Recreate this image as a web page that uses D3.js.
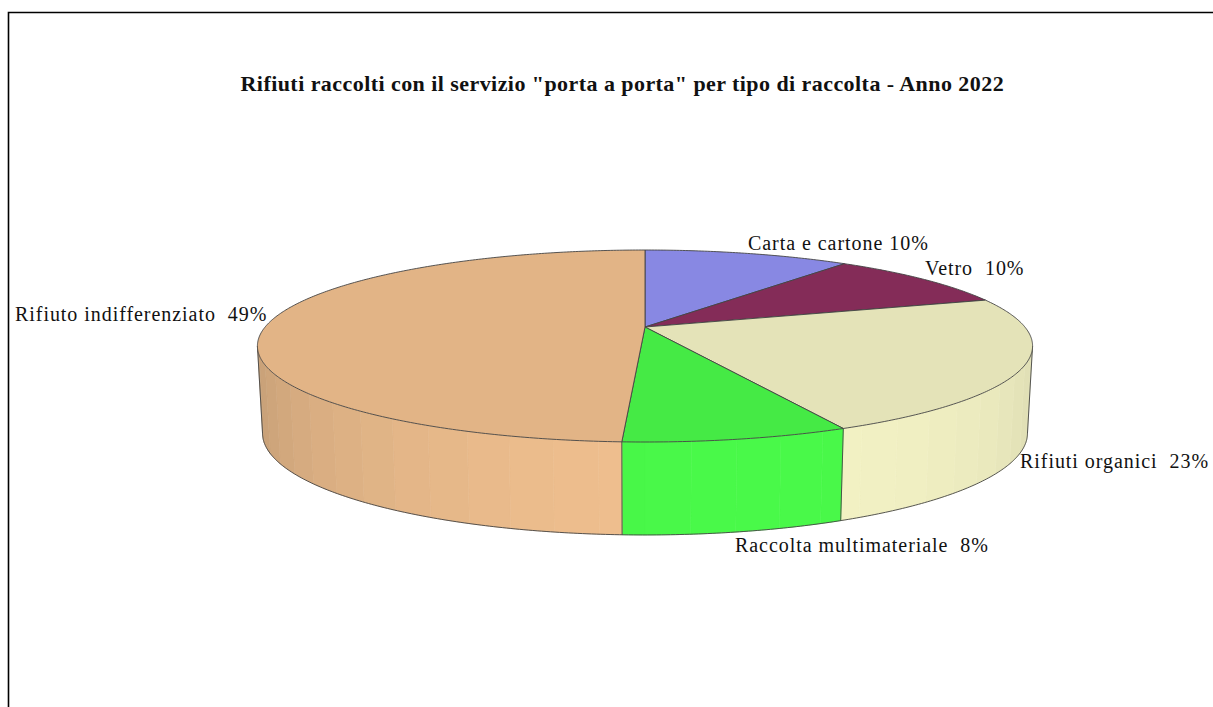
<!DOCTYPE html>
<html>
<head>
<meta charset="utf-8">
<script src="https://cdnjs.cloudflare.com/ajax/libs/d3/7.8.5/d3.min.js"></script>
<style>
  html, body { margin: 0; padding: 0; background: #fff; overflow: hidden; }
  text { font-family: "Liberation Serif", serif; fill: #111; white-space: pre; }
</style>
</head>
<body>
<div id="chart"></div>
<script>
const titleText = 'Rifiuti raccolti con il servizio "porta a porta" per tipo di raccolta - Anno 2022';
const categories = ['Carta e cartone', 'Vetro', 'Rifiuti organici', 'Raccolta multimateriale', 'Rifiuto indifferenziato'];
const values = [10.4, 9.6, 22.95, 7.83, 49.22];
const valueLabels = ['10%', ' 10%', ' 23%', ' 8%', ' 49%'];
const sliceColors = ['#9191f2', '#8c2f5e', '#f3f2c4', '#49f949', '#f0c08f'];

const width = 1213;
const height = 707;

// x, y of the left end of each label's baseline
const labelAt = [[748, 250], [925, 275], [1020, 468], [735, 552], [15, 321]];

// tilted disc: k is the foreshortening from far edge to near edge
const k = 0.198;
const topDisc = { x: 645, y: 327, a: 379.9, b: 92.24 };
const bottomDisc = { x: 645, y: 413, a: 374.9, b: 97.8 };

function project(disc, angle) {
  const w = 1 + k * Math.cos(angle);
  return [disc.x + disc.a * Math.sin(angle) / w, disc.y - disc.b * Math.cos(angle) / w];
}

// the side walls show only between these two angles
const wallStart = Math.acos(-k);
const wallEnd = 2 * Math.PI - wallStart;
const facet = Math.PI / 32;
const lightAngle = 165 * Math.PI / 180;

const pie = d3.pie().sort(null).value(d => d);
const arcs = pie(values);
const line = d3.line();

function rimPoints(disc, from, to) {
  const n = Math.max(1, Math.ceil((to - from) / 0.01));
  return d3.range(n + 1).map(i => project(disc, from + (to - from) * i / n));
}

const svg = d3.select('#chart')
  .append('svg')
  .attr('width', width)
  .attr('height', height)
  .style('display', 'block');

// frame, open at the right and at the bottom
svg.append('path')
  .attr('d', line([[8.5, height], [8.5, 12.5], [width, 12.5]]))
  .attr('fill', 'none')
  .attr('stroke', '#000')
  .attr('stroke-width', 1.6);

svg.append('text')
  .attr('x', 240.5)
  .attr('y', 91)
  .attr('font-size', 22)
  .attr('font-weight', 'bold')
  .attr('letter-spacing', 0.44)
  .text(titleText);

// side walls, one flat facet at a time
arcs.forEach((d, i) => {
  const from = Math.max(d.startAngle, wallStart);
  const to = Math.min(d.endAngle, wallEnd);
  if (from >= to) return;
  const first = Math.floor(from / facet);
  const last = Math.ceil(to / facet);
  d3.range(first, last).forEach(j => {
    const a0 = Math.max(j * facet, from);
    const a1 = Math.min((j + 1) * facet, to);
    const shade = 0.829 + 0.171 * Math.cos((j + 0.5) * facet - lightAngle);
    const c = d3.rgb(sliceColors[i]);
    const fill = d3.rgb(c.r * shade, c.g * shade, c.b * shade);
    svg.append('path')
      .attr('d', line(rimPoints(topDisc, a0, a1).concat(rimPoints(bottomDisc, a0, a1).reverse())) + 'Z')
      .attr('fill', fill)
      .attr('stroke', fill)
      .attr('stroke-width', 0.6);
  });
  // edge between two neighbouring walls
  if (d.startAngle > wallStart && d.startAngle < wallEnd) {
    svg.append('path')
      .attr('d', line([project(topDisc, d.startAngle), project(bottomDisc, d.startAngle)]))
      .attr('stroke', '#444')
      .attr('stroke-width', 0.9);
  }
});

// outline of the walls
svg.append('path')
  .attr('d', line([project(topDisc, wallStart)].concat(rimPoints(bottomDisc, wallStart, wallEnd), [project(topDisc, wallEnd)])))
  .attr('fill', 'none')
  .attr('stroke', '#444')
  .attr('stroke-width', 0.9);

// top face of each slice
arcs.forEach((d, i) => {
  const c = d3.rgb(sliceColors[i]);
  const topFill = d3.rgb(c.r * 0.94, c.g * 0.94, c.b * 0.94);
  svg.append('path')
    .attr('d', line([[topDisc.x, topDisc.y]].concat(rimPoints(topDisc, d.startAngle, d.endAngle))) + 'Z')
    .attr('fill', topFill)
    .attr('stroke', '#444')
    .attr('stroke-width', 0.9)
    .attr('stroke-linejoin', 'round');
});

svg.selectAll('.slice-label')
  .data(categories)
  .enter()
  .append('text')
  .attr('class', 'slice-label')
  .attr('x', (d, i) => labelAt[i][0])
  .attr('y', (d, i) => labelAt[i][1])
  .attr('font-size', 20)
  .attr('letter-spacing', 0.95)
  .text((d, i) => `${d} ${valueLabels[i]}`);
</script>
</body>
</html>
